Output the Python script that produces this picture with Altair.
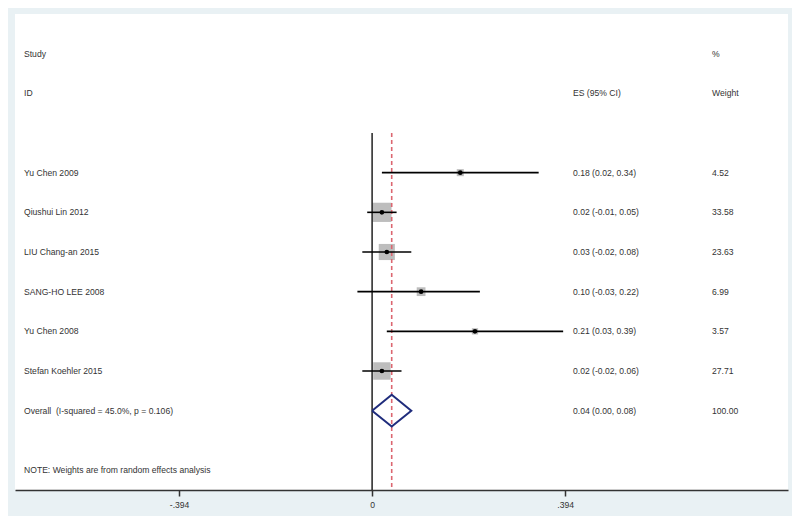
import altair as alt
import pandas as pd

# ---- data ----
studies = ["Yu Chen 2009", "Qiushui Lin 2012", "LIU Chang-an 2015",
           "SANG-HO LEE 2008", "Yu Chen 2008", "Stefan Koehler 2015"]
es = [0.18, 0.02, 0.03, 0.10, 0.21, 0.02]
lo = [0.02, -0.01, -0.02, -0.03, 0.03, -0.02]
hi = [0.34, 0.05, 0.08, 0.22, 0.39, 0.06]
weights = [4.52, 33.58, 23.63, 6.99, 3.57, 27.71]

overall_label = "Overall\u00a0 (I-squared = 45.0%, p = 0.106)"
overall_es, overall_lo, overall_hi, overall_w = 0.04, 0.00, 0.08, 100.00
note = "NOTE: Weights are from random effects analysis"

tick_values = [-0.394, 0, 0.394]
tick_labels = ["-.394", "0", ".394"]

# ---- layout constants ----
FONT = "Liberation Sans"
TXT = "#333333"
FS = 8.6
X_STUDY, X_ES, X_W = 9, 558, 697
DOMAIN = [-0.729, 0.849]
YDOM = [-4, 8]

rows = list(range(len(studies)))
overall_row = len(studies)
note_row = overall_row + 1.5

df = pd.DataFrame({
    "study": studies, "es": es, "lo": lo, "hi": hi, "w": weights, "row": rows,
})
df["es_txt"] = [f"{e:.2f} ({l:.2f}, {h:.2f})" for e, l, h in zip(es, lo, hi)]
df["w_txt"] = [f"{w:.2f}" for w in weights]

label_expr = "datum.value == 0 ? '{1}' : (datum.value < 0 ? '{0}' : '{2}')".format(*tick_labels)

x = alt.X("es:Q", scale=alt.Scale(domain=DOMAIN, nice=False, zero=False),
          axis=alt.Axis(values=tick_values, title=None, grid=False,
                        labelExpr=label_expr,
                        domainColor=TXT, domainWidth=1.5, tickColor=TXT,
                        tickWidth=1.5, tickSize=6, labelFont=FONT, labelFontSize=FS,
                        labelColor=TXT, labelPadding=4))
yscale = alt.Scale(domain=YDOM, reverse=True, nice=False, zero=False)
y = alt.Y("row:Q", scale=yscale, axis=None)

base = alt.Chart(df)

boxes = base.mark_square(color="#bdbdbd", opacity=1).encode(
    x=x, y=y,
    size=alt.Size("w:Q", scale=alt.Scale(domain=[0, 100], range=[0, 1100]), legend=None),
)

ci = base.mark_rule(color="black", strokeWidth=1.6).encode(
    x=alt.X("lo:Q"), x2="hi:Q", y=y)

pts = base.mark_point(filled=True, color="black", size=22, opacity=1).encode(x=x, y=y)

# reference lines
vlines = pd.DataFrame({"v": [0, overall_es], "y1": [-1, -1], "y2": [8, 8],
                       "kind": ["zero", "overall"]})
zero_line = alt.Chart(vlines[vlines.kind == "zero"]).mark_rule(
    color="#222222", strokeWidth=1.5).encode(
    x=alt.X("v:Q"), y=alt.Y("y1:Q", scale=yscale, axis=None), y2="y2:Q")
ov_line = alt.Chart(vlines[vlines.kind == "overall"]).mark_rule(
    color="#dc6670", strokeWidth=1.6, strokeDash=[4, 3]).encode(
    x=alt.X("v:Q"), y=alt.Y("y1:Q", scale=yscale, axis=None), y2="y2:Q")

# diamond
half = 0.4
dia = pd.DataFrame({
    "x": [overall_lo, overall_es, overall_hi, overall_es, overall_lo],
    "y": [overall_row, overall_row - half, overall_row, overall_row + half, overall_row],
    "o": [0, 1, 2, 3, 4],
})
diamond = alt.Chart(dia).mark_line(color="#1f2c7c", strokeWidth=2).encode(
    x=alt.X("x:Q"), y=alt.Y("y:Q", scale=yscale, axis=None), order="o:Q")

# texts
texts = pd.DataFrame({
    "t": ["Study", "ID", "%", "Weight", "ES (95% CI)", overall_label,
          f"{overall_es:.2f} ({overall_lo:.2f}, {overall_hi:.2f})", f"{overall_w:.2f}", note],
    "row": [-3, -2, -3, -2, -2, overall_row, overall_row, overall_row, note_row],
    "col": ["s", "s", "w", "w", "e", "s", "e", "w", "s"],
})

def text_layer(frame, xpix):
    return alt.Chart(frame).mark_text(
        align="left", baseline="middle", font=FONT, fontSize=FS, color=TXT).encode(
        x=alt.value(xpix), y=alt.Y("row:Q", scale=yscale, axis=None), text="t:N")

t_study = text_layer(texts[texts.col == "s"], X_STUDY)
t_es = text_layer(texts[texts.col == "e"], X_ES)
t_w = text_layer(texts[texts.col == "w"], X_W)

lab_study = base.mark_text(align="left", baseline="middle", font=FONT, fontSize=FS,
                           color=TXT).encode(x=alt.value(X_STUDY), y=y, text="study:N")
lab_es = base.mark_text(align="left", baseline="middle", font=FONT, fontSize=FS,
                        color=TXT).encode(x=alt.value(X_ES), y=y, text="es_txt:N")
lab_w = base.mark_text(align="left", baseline="middle", font=FONT, fontSize=FS,
                       color=TXT).encode(x=alt.value(X_W), y=y, text="w_txt:N")

chart = alt.layer(
    boxes, zero_line, ov_line, ci, pts, diamond,
    t_study, t_es, t_w, lab_study, lab_es, lab_w,
).properties(
    width=773, height=476,
    padding={"left": 7, "top": 6, "right": 4, "bottom": 26},
    autosize=alt.AutoSizeParams(type="none"),
    background="#e9f1f4",
).configure_view(stroke=None, fill="white")

chart.save("out.html", embed_options={"renderer": "svg", "actions": False})
